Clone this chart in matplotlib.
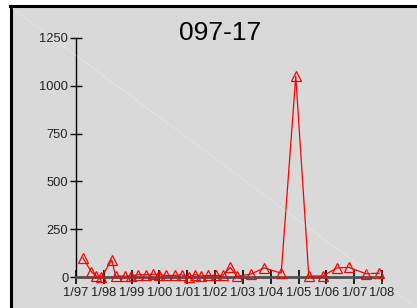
import matplotlib.pyplot as plt
import pandas as pd
from matplotlib.lines import Line2D
from matplotlib.patches import Rectangle

plt.rcParams["font.family"] = ["Liberation Sans", "DejaVu Sans"]

# sample dates and values
dates = [
    "1997-04-01", "1997-07-20", "1997-09-25", "1997-12-01", "1998-04-15",
    "1998-06-05", "1998-10-08", "1998-12-25", "1999-04-01", "1999-07-08",
    "1999-10-05", "2000-01-01", "2000-03-28", "2000-07-24", "2000-10-20",
    "2001-01-26", "2001-04-12", "2001-06-28", "2001-10-05", "2002-01-15",
    "2002-04-12", "2002-07-20", "2002-10-15", "2003-04-15", "2003-10-08",
    "2004-05-18", "2004-11-25", "2005-05-15", "2005-11-15", "2006-05-22",
    "2006-10-26", "2007-06-05", "2007-11-25",
]
values = [
    100, 28, 5, 0, 90,
    5, 5, 5, 12, 12,
    15, 12, 8, 8, 12,
    0, 12, 5, 8, 8,
    8, 50, 3, 15, 48,
    20, 1050, 5, 5, 48,
    50, 17, 20,
]
tick_years = list(range(1997, 2009))
tick_labels = ["1/%02d" % (y % 100) for y in tick_years]
y_ticks = [0, 250, 500, 750, 1000, 1250]
title = "097-17"

x = pd.to_datetime(dates)

fig = plt.figure(figsize=(4.17, 3.08), dpi=100)
fig.patch.set_facecolor("white")

# grey panel with heavy black edge on top/left
fig.add_artist(Rectangle((10 / 417, 0), 1, 1 - 6 / 308, transform=fig.transFigure,
                         facecolor="#d9d9d9", edgecolor="none", zorder=0))
fig.add_artist(Line2D([11 / 417, 11 / 417], [0, 1 - 6 / 308], transform=fig.transFigure,
                      color="black", linewidth=2.2, zorder=1))
fig.add_artist(Line2D([10 / 417, 1], [1 - 6 / 308, 1 - 6 / 308], transform=fig.transFigure,
                      color="black", linewidth=2.2, zorder=1))
# faint diagonal
fig.add_artist(Line2D([12 / 417, 1], [1 - 8 / 308, 0.0], transform=fig.transFigure,
                      color="white", linewidth=0.5, alpha=0.35, zorder=1))

ax = fig.add_axes([76 / 417, 31 / 308, 306 / 417, 239 / 308])
ax.patch.set_visible(False)

ax.plot(x, values, color="#ff0000", linewidth=0.9, marker="^", markersize=7,
        markerfacecolor="none", markeredgecolor="#ff0000", markeredgewidth=0.9,
        clip_on=False, zorder=3)

ax.set_xlim(pd.Timestamp("1997-01-01"), pd.Timestamp("2008-01-01"))
ax.set_ylim(0, 1250)
ax.set_xticks([pd.Timestamp("%d-01-01" % y) for y in tick_years])
ax.set_xticklabels(tick_labels, family=["Liberation Sans Narrow", "Liberation Sans"])
ax.set_yticks(y_ticks)
ax.set_yticklabels([str(v) for v in y_ticks],
                   family=["Liberation Sans Narrow", "Liberation Sans"])

for s in ["top", "right"]:
    ax.spines[s].set_visible(False)
ax.spines["left"].set_color("black")
ax.spines["left"].set_linewidth(1.0)
ax.spines["bottom"].set_color("#505050")
ax.spines["bottom"].set_linewidth(2.0)

ax.tick_params(axis="x", direction="inout", length=10, width=1.2, color="black",
               labelcolor="#222222", labelsize=9.3, pad=2)
ax.tick_params(axis="y", direction="inout", length=9, width=1.0, color="black",
               labelcolor="#222222", labelsize=9.3, pad=1)

fig.text(220 / 417, 1 - 33 / 308, title, ha="center", va="center",
         fontsize=19, color="black")

fig.savefig("out.png", dpi=100)
